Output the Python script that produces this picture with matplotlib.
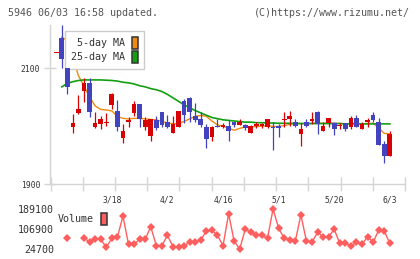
import numpy as np
import matplotlib
matplotlib.use("Agg")
import matplotlib.pyplot as plt
from matplotlib.patches import Patch

nan = np.nan

# ---- data (61 sessions) ----
OPEN = [2126, 2152, 2100, 1999, 2023, 2060, 2075, 1999, 2004, 2005,
        2037, 2027, 1979, 2008, 2022, 2038, 1999, 1983, 2011, 2025,
        2008, 1989, 1999, 2044, 2049, 2017, 2013, 1999, 1981, 2001,
        1999, 2001, 2008, 2002, 2002, 1988, 2001, 2001, 1999, 1998,
        2000, 2010, 2012, 2008, 1986, 2008, 2009, 2025, 1991, 2006,
        2006, 2000, 2006, 1999, 2014, 1995, 2008, 2020, 2008, 1970,
        1949]
HIGH = [2127, 2175, 2100, 2021, 2054, 2083, 2083, 2025, 2018, 2022,
        2057, 2045, 2004, 2016, 2044, 2038, 2016, 2012, 2017, 2025,
        2019, 2018, 2026, 2047, 2051, 2040, 2025, 2004, 2001, 2012,
        2006, 2011, 2008, 2013, 2003, 2002, 2008, 2006, 2013, 2008,
        2003, 2024, 2027, 2012, 2005, 2012, 2025, 2027, 2007, 2015,
        2008, 2006, 2006, 2017, 2020, 2008, 2015, 2025, 2015, 1975,
        1992]
LOW = [2126, 2100, 2055, 1988, 2021, 2042, 2016, 1997, 1995, 2000,
       2030, 1991, 1971, 1999, 2018, 1999, 1993, 1975, 1994, 1999,
       1997, 1989, 1999, 2005, 2008, 2008, 1999, 1963, 1974, 1998,
       1997, 1974, 1999, 2002, 1994, 1988, 1997, 1996, 1997, 1958,
       1982, 1999, 2001, 1998, 1965, 1998, 2004, 1987, 1991, 1998,
       1985, 1995, 1991, 1995, 1998, 1995, 1999, 2008, 1968, 1937,
       1949]
CLOSE = [2127, 2116, 2067, 2006, 2029, 2075, 2025, 2006, 2012, 2008,
         2056, 1998, 1992, 2011, 2038, 2012, 2010, 2012, 1997, 2002,
         1999, 2004, 2026, 2019, 2024, 2011, 2002, 1978, 1999, 1998,
         2001, 1992, 2002, 2008, 1996, 2001, 2003, 2003, 2013, 1996,
         1997, 2013, 2018, 2001, 1995, 2001, 2012, 2004, 2001, 2015,
         1995, 2001, 1995, 2014, 1998, 2004, 2011, 2010, 1968, 1949,
         1987]

MA5 = [nan, 2154, 2148, 2118, 2087, 2069.5, 2050.5, 2035, 2029, 2028,
       2026.4, 2017, 2013.5, 2012.6, 2013.5, 2013.5, 2012.6, 2011.7, 2010.9, 2008.3,
       2005.7, 2004, 2004.8, 2008.3, 2012.6, 2017, 2018.6, 2017, 2009, 2002.2,
       1999.7, 1997, 1992.8, 1996.2, 1998.8, 1998.8, 1999.5, 2000, 2001, 1999.5,
       1999.5, 2001, 2003, 2004.8, 2004.8, 2004.8, 2004.8, 2005.7, 2004.8, 2005.7,
       2004.8, 2004.8, 2004, 2004.8, 2004.8, 2004, 2004.8, 2005, 1997, 1987.6,
       1986.7]
MA25 = [nan, 2068, 2074, 2077, 2079, 2080, 2080, 2080, 2080, 2079.5,
        2079, 2078, 2076, 2075, 2073, 2070, 2068, 2065, 2063, 2060,
        2055, 2049, 2043, 2037, 2032, 2027, 2023, 2019, 2015, 2013,
        2011, 2010, 2009, 2008, 2007, 2007, 2006, 2006, 2005.5, 2005.5,
        2005, 2005, 2005, 2004.5, 2004.5, 2004.5, 2004.5, 2004.5, 2004.5, 2004.5,
        2004.5, 2004.5, 2004, 2004, 2004, 2004, 2004, 2004, 2004, 2004,
        2004]

VOLUME = [nan, nan, 68700, nan, nan, 68700, 54700, 64600, 64600, 31700,
          68700, 72800, 160300, 44000, 45300, 64600, 64600, 116400, 38300, 38300,
          81000, 34200, 31700, 38300, 52200, 52200, 61800, 98700, 102800, 81000,
          38300, 168550, 57600, 24700, 105700, 93300, 81000, 81000, 68700, 189100,
          109800, 68700, 61800, 57600, 164400, 57600, 52200, 93300, 75300, 75300,
          105700, 47400, 47400, 38300, 52200, 44000, 75300, 52200, 102800, 98700,
          47400]

DATE_POS = [10, 20, 30, 40, 50, 60]
DATE_LABELS = ["3/18", "4/2", "4/16", "5/1", "5/20", "6/3"]
PRICE_TICKS = [1900, 2100]
VOL_TICKS = [24700, 106900, 189100]

# ---- style ----
W, H = 420, 259
RED = "#d80000"
BLUE = "#4343c0"
ORANGE = "#f08a10"
GREEN = "#12a012"
VOLCOL = "#ff5e5e"
AXCOL = "#d4d4d4"
FONT = "DejaVu Sans Mono"
XLIM = (-1.12, 62.73)

plt.rcParams["font.family"] = FONT

fig = plt.figure(figsize=(W / 100, H / 100), dpi=100)
fig.patch.set_facecolor("white")

fig.text(8 / W, 1 - 12.5 / H, "5946 06/03 16:58 updated.", fontsize=7.2,
         color="#555555", va="center", ha="left")
fig.text(410 / W, 1 - 12.5 / H, "(C)https://www.rizumu.net/", fontsize=7.2,
         color="#555555", va="center", ha="right")

# ---- price panel ----
ax = fig.add_axes([50 / W, 1 - 184 / H, 355 / W, 159 / H])
ax.set_xlim(*XLIM)
ax.set_ylim(1900, 2175)

x = np.arange(len(CLOSE))
o = np.array(OPEN, float)
c = np.array(CLOSE, float)
colors = [RED if cc >= oo else BLUE for oo, cc in zip(o, c)]
ax.vlines(x, LOW, HIGH, colors=colors, linewidth=0.9, zorder=6)
body = np.maximum(np.abs(c - o), 2.4)
ax.bar(x, body, bottom=np.minimum(o, c), width=0.84, color=colors,
       linewidth=0, zorder=6)

ax.plot(x, MA5, color=ORANGE, linewidth=1.0, zorder=3)
ax.plot(x, MA25, color=GREEN, linewidth=1.2, zorder=3)

for side in ("top", "right"):
    ax.spines[side].set_visible(False)
for side in ("left", "bottom"):
    ax.spines[side].set_color(AXCOL)
    ax.spines[side].set_linewidth(1.0)

ax.set_yticks(PRICE_TICKS)
ax.tick_params(axis="y", direction="inout", length=8, width=1.0, color=AXCOL,
               labelsize=5.8, labelcolor="#333333", pad=3)
ax.set_xticks(DATE_POS)
ax.set_xticklabels(DATE_LABELS)
ax.set_xticks(np.linspace(XLIM[0] + 0.1, XLIM[1], 12), minor=True)
ax.tick_params(axis="x", which="major", length=0, labelsize=5.8,
               labelcolor="#333333", pad=8)
ax.tick_params(axis="x", which="minor", direction="inout", length=10,
               width=1.0, color=AXCOL)

handles = [Patch(facecolor=ORANGE, edgecolor="#333333", linewidth=1.1),
           Patch(facecolor=GREEN, edgecolor="#333333", linewidth=1.1)]
leg = ax.legend(handles, [" 5-day MA", "25-day MA"], loc="upper left",
                bbox_to_anchor=(65 / W, 1 - 30.5 / H),
                bbox_transform=fig.transFigure, borderaxespad=0,
                markerfirst=False, fontsize=7.2, borderpad=0.6,
                handlelength=0.63, handleheight=1.5, handletextpad=0.65,
                labelspacing=0.2, fancybox=False, framealpha=1,
                edgecolor="#cccccc", facecolor="white")
leg.set_zorder(5)
for t in leg.get_texts():
    t.set_color("#333333")

# ---- volume panel ----
vax = fig.add_axes([50 / W, 1 - 249 / H, 355 / W, 40 / H])
vax.set_xlim(*XLIM)
vax.set_ylim(VOL_TICKS[0], VOL_TICKS[-1])
vax.plot(x, VOLUME, color=VOLCOL, linewidth=1.0, marker="D", markersize=4.2,
         markeredgewidth=0, clip_on=False, zorder=3)
for s in vax.spines.values():
    s.set_visible(False)
vax.set_xticks([])
vax.set_yticks(VOL_TICKS)
vax.set_yticklabels([str(v) for v in VOL_TICKS])
vax.tick_params(axis="y", length=0, labelsize=7.2, labelcolor="#333333", pad=-3)
vax.patch.set_alpha(0)

vleg = vax.legend([Patch(facecolor=VOLCOL, edgecolor="#333333", linewidth=1.1)],
                  ["Volume"], loc="upper left",
                  bbox_to_anchor=(53 / W, 1 - 208 / H),
                  bbox_transform=fig.transFigure, borderaxespad=0,
                  markerfirst=False, fontsize=7.2, borderpad=0.45,
                  handlelength=0.63, handleheight=1.5, handletextpad=0.7,
                  fancybox=False, framealpha=1, edgecolor="white",
                  facecolor="white")
vleg.set_zorder(5)
for t in vleg.get_texts():
    t.set_color("#333333")

fig.savefig("out.png", dpi=100, facecolor="white")
